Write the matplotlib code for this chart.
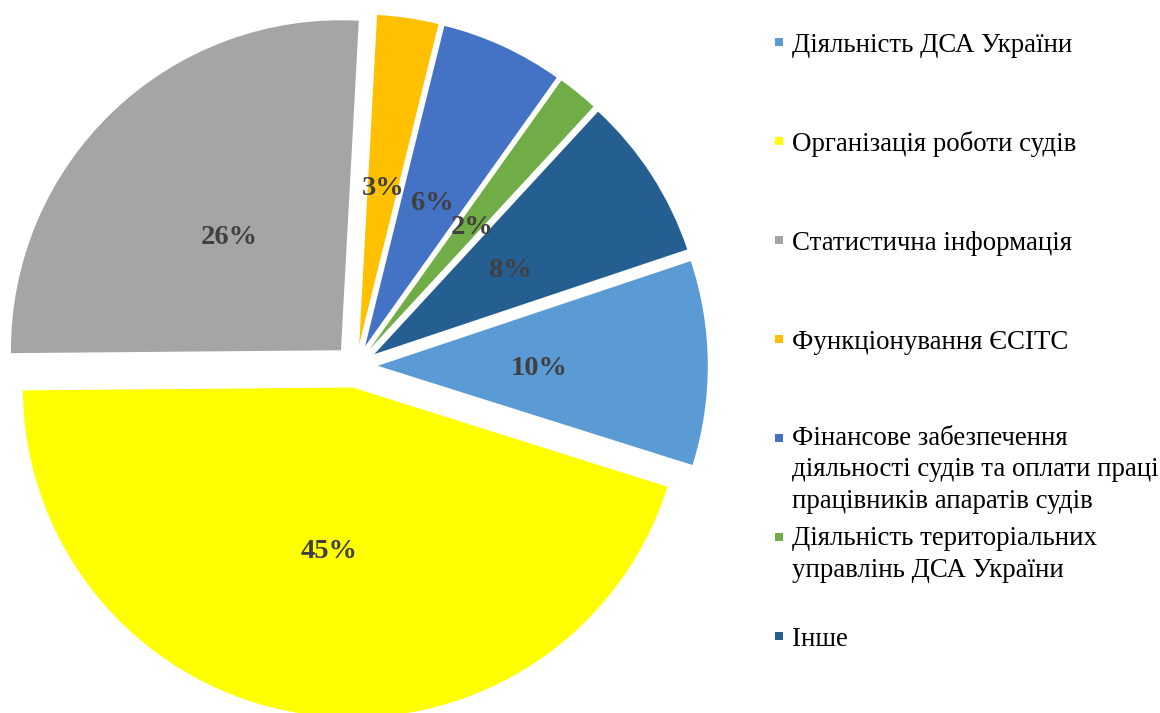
import matplotlib
matplotlib.use("Agg")
import matplotlib.pyplot as plt
from matplotlib.patches import Rectangle

# дані діаграми
categories = [
    "Діяльність ДСА України",
    "Організація роботи судів",
    "Статистична інформація",
    "Функціонування ЄСІТС",
    "Фінансове забезпечення\nдіяльності судів та оплати праці\nпрацівників апаратів судів",
    "Діяльність територіальних\nуправлінь ДСА України",
    "Інше",
]
shares = [10, 45, 26, 3, 6, 2, 8]
colors = ["#5B9BD5", "#FFFF00", "#A5A5A5", "#FFC000", "#4472C4", "#70AD47", "#255E91"]

W, H = 1160, 713
plt.rcParams["font.family"] = ["Liberation Serif", "DejaVu Serif"]

fig = plt.figure(figsize=(W / 100, H / 100), dpi=100)
ax = fig.add_axes([0, 0, 1, 1])

# центр круга і радіус у пікселях
cx, cy, R = 356, 366, 330

wedges, texts, autotexts = ax.pie(
    shares,
    colors=colors,
    startangle=18.5,
    counterclock=False,
    explode=[0.066] * len(shares),
    radius=1.0,
    autopct="%1.0f%%",
    pctdistance=0.49,
    wedgeprops=dict(linewidth=0),
    textprops=dict(fontsize=20.5, fontweight="bold", color="#404040"),
)
# трохи опустити підписи (va=center враховує нижні виносні елементи)
for t in autotexts:
    x, y = t.get_position()
    t.set_position((x, y - 4 / R))

ax.set_xlim(-cx / R, (W - cx) / R)
ax.set_ylim(-(H - cy) / R, cy / R)
ax.set_aspect("equal")
ax.axis("off")

# легенда вручну: крок між записами ~99 px, між рядками ~30 px
for i, (name, col) in enumerate(zip(categories, colors)):
    base = 52 + i * 99
    nlines = name.count("\n")
    fig.patches.append(Rectangle((775 / W, 1 - (base - 6) / H), 8 / W, 8 / H,
                                 transform=fig.transFigure, color=col, lw=0))
    fig.text(792 / W, 1 - (base + 30 * nlines) / H, name, fontsize=19.4,
             color="black", va="baseline", ha="left", linespacing=1.35)

fig.savefig("out.png", dpi=100)
